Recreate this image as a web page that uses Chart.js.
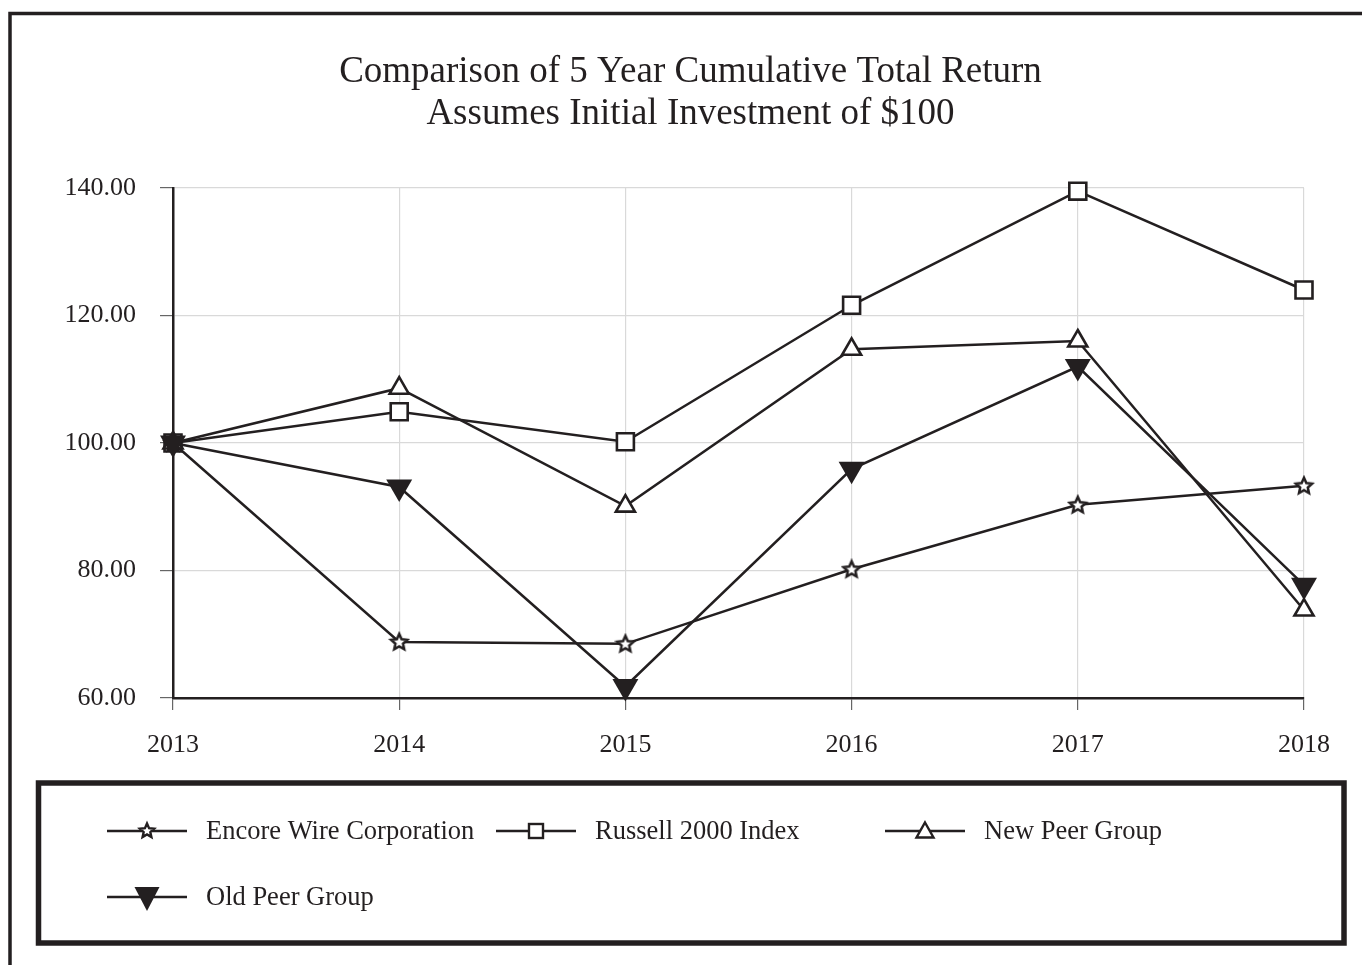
<!DOCTYPE html>
<html>
<head>
<meta charset="utf-8">
<script src="https://cdn.jsdelivr.net/npm/chart.js@4.4.1/dist/chart.umd.min.js"></script>
<style>
  html, body { margin: 0; padding: 0; background: #fff; }
  #wrap { width: 1362px; height: 965px; position: relative; }
</style>
</head>
<body>
<div id="wrap"><canvas id="chart" width="1362" height="965"></canvas></div>
<script>
const years = ['2013', '2014', '2015', '2016', '2017', '2018'];
const encoreWire = [100, 68.8, 68.5, 80.2, 90.3, 93.3];
const russell2000 = [100, 104.9, 100.2, 121.6, 139.5, 124.0];
const newPeerGroup = [100, 108.6, 90.1, 114.7, 116.0, 73.8];
const oldPeerGroup = [100, 93.1, 61.8, 95.9, 112.0, 77.7];
const titleLines = ['Comparison of 5 Year Cumulative Total Return', 'Assumes Initial Investment of $100'];

const ink = '#231f20';
const serif = '"Liberation Serif", "Times New Roman", serif';

// 5 point star outline, Chart.js has no such point style
function starPath(ctx, cx, cy, outer, inner) {
  ctx.beginPath();
  for (let i = 0; i < 10; i++) {
    const r = i % 2 === 0 ? outer : inner;
    const a = -Math.PI / 2 + i * Math.PI / 5;
    const px = cx + r * Math.cos(a), py = cy + r * Math.sin(a);
    if (i === 0) ctx.moveTo(px, py); else ctx.lineTo(px, py);
  }
  ctx.closePath();
}

function makeStar(size, outer, inner, lw) {
  const c = document.createElement('canvas');
  c.width = size; c.height = size;
  const ctx = c.getContext('2d');
  starPath(ctx, size / 2, size / 2 + 0.5, outer, inner);
  ctx.fillStyle = '#fff';
  ctx.fill();
  ctx.lineWidth = lw;
  ctx.strokeStyle = ink;
  ctx.stroke();
  return c;
}

const starImg = makeStar(22, 8.5, 4, 2.5);

const frame = {
  id: 'frame',
  beforeDraw(chart) {
    const ctx = chart.ctx;
    ctx.save();
    ctx.fillStyle = '#fff';
    ctx.fillRect(0, 0, chart.width, chart.height);
    ctx.strokeStyle = ink;
    ctx.lineWidth = 3.5;
    ctx.beginPath();
    ctx.moveTo(10, chart.height);
    ctx.lineTo(10, 13.5);
    ctx.lineTo(chart.width, 13.5);
    ctx.stroke();

    // title
    ctx.fillStyle = ink;
    ctx.font = '37px ' + serif;
    ctx.textAlign = 'center';
    ctx.textBaseline = 'alphabetic';
    const targets = [705, 532];
    const ys = [82, 124];
    titleLines.forEach((t, i) => {
      const w = ctx.measureText(t).width;
      const k = Math.min(1, targets[i] / w);
      ctx.save();
      ctx.translate(690.5, ys[i]);
      ctx.scale(k, 1);
      ctx.fillText(t, 0, 0);
      ctx.restore();
    });
    ctx.restore();
  },
  afterDraw(chart) {
    const ctx = chart.ctx;
    ctx.save();
    // legend box
    ctx.strokeStyle = ink;
    ctx.lineWidth = 5.5;
    ctx.strokeRect(38.5, 783, 1305.5, 160);

    const items = [
      { label: 'Encore Wire Corporation', x: 107, y: 831, mark: 'star' },
      { label: 'Russell 2000 Index', x: 496, y: 831, mark: 'rect' },
      { label: 'New Peer Group', x: 885, y: 831, mark: 'tri' },
      { label: 'Old Peer Group', x: 107, y: 897, mark: 'down' }
    ];
    ctx.font = '26.5px ' + serif;
    ctx.textBaseline = 'middle';
    ctx.textAlign = 'left';
    items.forEach(it => {
      ctx.strokeStyle = ink;
      ctx.lineWidth = 2.5;
      ctx.beginPath();
      ctx.moveTo(it.x, it.y);
      ctx.lineTo(it.x + 80, it.y);
      ctx.stroke();
      const cx = it.x + 40, cy = it.y;
      ctx.lineWidth = 2.4;
      if (it.mark === 'star') {
        starPath(ctx, cx, cy, 7.5, 3.5);
        ctx.fillStyle = '#fff'; ctx.fill(); ctx.stroke();
      } else if (it.mark === 'rect') {
        ctx.fillStyle = '#fff';
        ctx.fillRect(cx - 7, cy - 7, 14, 14);
        ctx.strokeRect(cx - 7, cy - 7, 14, 14);
      } else if (it.mark === 'tri') {
        ctx.beginPath();
        ctx.moveTo(cx, cy - 8.5); ctx.lineTo(cx + 8.5, cy + 6.5); ctx.lineTo(cx - 8.5, cy + 6.5);
        ctx.closePath();
        ctx.fillStyle = '#fff'; ctx.fill(); ctx.stroke();
      } else {
        ctx.beginPath();
        ctx.moveTo(cx - 12.5, cy - 10); ctx.lineTo(cx + 12.5, cy - 10); ctx.lineTo(cx, cy + 14);
        ctx.closePath();
        ctx.fillStyle = ink; ctx.fill();
      }
      ctx.fillStyle = ink;
      ctx.fillText(it.label, it.x + 99, it.y + 1);
    });
    ctx.restore();
  }
};

function series(label, data, style) {
  return Object.assign({
    label: label,
    data: data,
    borderColor: ink,
    borderWidth: 2.5,
    pointBorderColor: ink,
    pointBorderWidth: 2.6,
    pointBackgroundColor: '#fff',
    tension: 0,
    clip: false
  }, style);
}

new Chart(document.getElementById('chart'), {
  type: 'line',
  data: {
    labels: years,
    datasets: [
      series('Encore Wire Corporation', encoreWire, { pointStyle: starImg, order: 1 }),
      series('Russell 2000 Index', russell2000, { pointStyle: 'rect', pointRadius: 12, order: 3 }),
      series('New Peer Group', newPeerGroup, { pointStyle: 'triangle', pointRadius: 11, order: 2 }),
      series('Old Peer Group', oldPeerGroup, { pointStyle: 'triangle', pointRotation: 180, pointRadius: 15, pointBackgroundColor: ink, pointBorderWidth: 0, order: 0 })
    ]
  },
  options: {
    responsive: false,
    animation: false,
    events: [],
    layout: { padding: { top: 188, left: 0, right: 58, bottom: 207 } },
    plugins: {
      legend: { display: false },
      title: { display: false },
      tooltip: { enabled: false }
    },
    scales: {
      x: {
        offset: false,
        grid: { color: '#d9d9d9', lineWidth: 1.2, tickLength: 12, tickColor: '#666' },
        border: { color: ink, width: 2.5 },
        ticks: { color: ink, font: { family: serif, size: 26 }, padding: 20, maxRotation: 0 },
        afterFit(scale) { scale.height = 60; }
      },
      y: {
        min: 60,
        max: 140,
        grid: { color: '#d9d9d9', lineWidth: 1.2, tickLength: 13, tickColor: '#666' },
        border: { color: ink, width: 2.5 },
        ticks: {
          stepSize: 20,
          color: ink,
          padding: 24,
          font: { family: serif, size: 26 },
          callback: v => v.toFixed(2)
        },
        afterFit(scale) { scale.width = 173; }
      }
    }
  },
  plugins: [frame]
});
</script>
</body>
</html>
